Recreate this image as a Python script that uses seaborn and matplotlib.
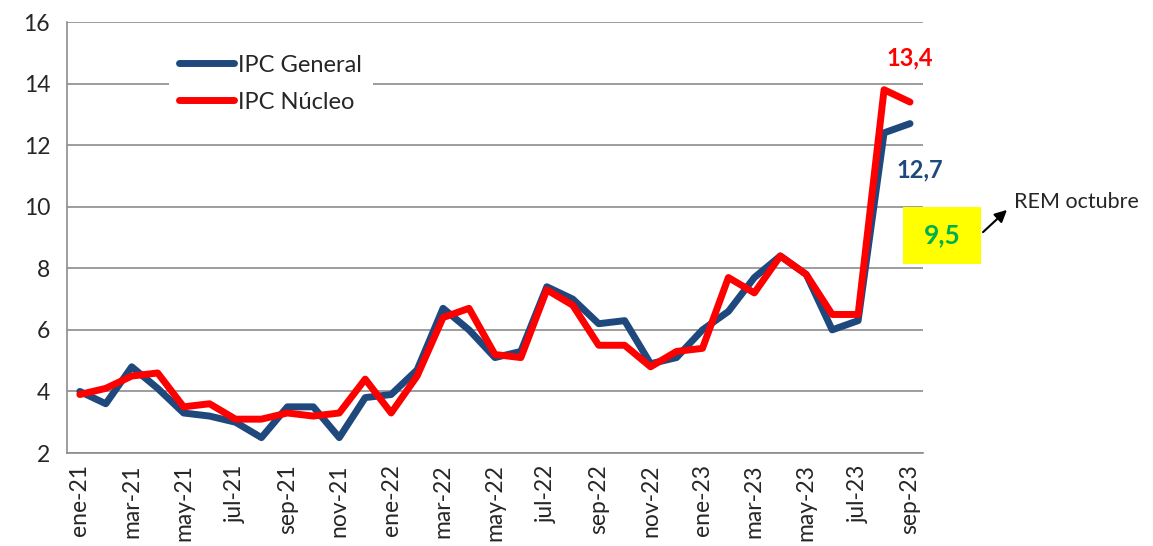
import matplotlib
matplotlib.use("Agg")
import matplotlib.pyplot as plt
from matplotlib.lines import Line2D
from matplotlib.patches import Rectangle, FancyArrowPatch
import seaborn as sns
import pandas as pd
import numpy as np


# Data (monthly % change)

meses = ['ene-21', 'feb-21', 'mar-21', 'abr-21', 'may-21', 'jun-21', 'jul-21', 'ago-21', 'sep-21', 'oct-21', 'nov-21', 'dic-21',
         'ene-22', 'feb-22', 'mar-22', 'abr-22', 'may-22', 'jun-22', 'jul-22', 'ago-22', 'sep-22', 'oct-22', 'nov-22', 'dic-22',
         'ene-23', 'feb-23', 'mar-23', 'abr-23', 'may-23', 'jun-23', 'jul-23', 'ago-23', 'sep-23']

ipcGeneral = [4.0, 3.6, 4.8, 4.1, 3.3, 3.2, 3.0, 2.5, 3.5, 3.5, 2.5, 3.8,
              3.9, 4.7, 6.7, 6.0, 5.1, 5.3, 7.4, 7.0, 6.2, 6.3, 4.9, 5.1,
              6.0, 6.6, 7.7, 8.4, 7.8, 6.0, 6.3, 12.4, 12.7]

ipcNucleo = [3.9, 4.1, 4.5, 4.6, 3.5, 3.6, 3.1, 3.1, 3.3, 3.2, 3.3, 4.4,
             3.3, 4.5, 6.4, 6.7, 5.2, 5.1, 7.3, 6.8, 5.5, 5.5, 4.8, 5.3,
             5.4, 7.7, 7.2, 8.4, 7.8, 6.5, 6.5, 13.8, 13.4]

series = ['IPC General', 'IPC Núcleo']
remOctubre = 9.5

colorGeneral = '#1F497D'
colorNucleo = '#FF0000'
gridColor = '#8C8C8C'


# Long format table for seaborn

df = pd.DataFrame({
  'pos': list(range(len(meses))) * 2,
  'valor': ipcGeneral + ipcNucleo,
  'serie': [series[0]] * len(meses) + [series[1]] * len(meses),
})

sns.set_style('white')
plt.rcParams['font.family'] = ['Lato', 'DejaVu Sans']

fig, ax = plt.subplots(figsize=(11.53, 5.46), dpi=100)
fig.subplots_adjust(left=0.058, right=0.8005, top=0.9597, bottom=0.1703)

palette = {series[0]: colorGeneral, series[1]: colorNucleo}
sns.lineplot(ax=ax, data=df, x='pos', y='valor', hue='serie', hue_order=series,
             palette=palette, linewidth=5, sort=False, legend=False,
             solid_joinstyle='round', solid_capstyle='round')

# Axes styling (Excel look)
ax.set_xlim(-0.5, len(meses) - 0.5)
ax.set_ylim(2, 16)
ax.set_yticks(np.arange(2, 17, 2))
ax.yaxis.grid(True, color=gridColor, linewidth=1.2)
ax.xaxis.grid(False)
for side in ['top', 'right']:
  ax.spines[side].set_visible(False)
for side in ['left', 'bottom']:
  ax.spines[side].set_color(gridColor)
  ax.spines[side].set_linewidth(1.2)

labelPos = list(range(0, len(meses), 2))
ax.set_xticks(labelPos)
ax.set_xticklabels([meses[i] for i in labelPos], rotation=90, fontsize=16.5)
ax.set_xticks(np.arange(-0.5, len(meses) - 1, 2), minor=True)
ax.tick_params(axis='x', which='major', length=0, pad=8)
ax.tick_params(axis='x', which='minor', length=6, width=1.2, color=gridColor, direction='out')
ax.tick_params(axis='y', which='major', length=6, width=1.2, color=gridColor, direction='out', labelsize=16.5, pad=6)
ax.set_xlabel('')
ax.set_ylabel('')

# Legend
handles = [Line2D([0], [0], color=palette[s], linewidth=5, solid_capstyle='round') for s in series]
leg = ax.legend(handles, series, loc='upper left', bbox_to_anchor=(0.119, 0.949), fontsize=17,
                frameon=True, facecolor='white', edgecolor='none', framealpha=1,
                handlelength=2.3, handletextpad=0.2, labelspacing=0.68, borderpad=0.45, borderaxespad=0)

# Annotations
ax.annotate('13,4', xy=(len(meses) - 1, ipcNucleo[-1]), xytext=(0, 32), textcoords='offset points',
            ha='center', va='center', color=colorNucleo, fontsize=17, fontweight='bold')
ax.annotate('12,7', xy=(len(meses) - 1, ipcGeneral[-1]), xytext=(7, -33), textcoords='offset points',
            ha='center', va='center', color=colorGeneral, fontsize=17, fontweight='bold')

box = Rectangle((0.9766, 0.4385), 0.0911, 0.1323, transform=ax.transAxes,
                facecolor='#FFFF00', edgecolor='none', clip_on=False, zorder=5)
ax.add_patch(box)
ax.text(0.9766 + 0.0911 / 2, 0.4385 + 0.1323 / 2, f'{remOctubre:.1f}'.replace('.', ','),
        transform=ax.transAxes, ha='center', va='center', color='#00B050',
        fontsize=19, fontweight='bold', zorder=6)

fig.patches.append(FancyArrowPatch(
  (981 / 1153, 1 - 234 / 546), (1009 / 1153, 1 - 208 / 546), transform=fig.transFigure,
  arrowstyle='-|>', mutation_scale=18, color='black', linewidth=1.5))
fig.text(1014 / 1153, 1 - 202 / 546, 'REM octubre', ha='left', va='center', fontsize=15.5)

fig.savefig('out.png', dpi=100)
